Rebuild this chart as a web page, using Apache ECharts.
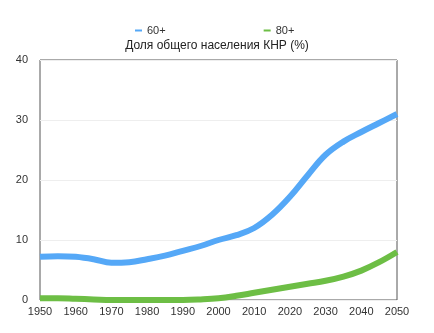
<!DOCTYPE html>
<html>
<head>
<meta charset="utf-8">
<script src="https://cdn.jsdelivr.net/npm/echarts@6/dist/echarts.min.js"></script>
<style>
  html, body { margin: 0; padding: 0; background: #fff; }
  #chart { width: 434px; height: 333px; }
</style>
</head>
<body>
<div id="chart"></div>
<script>
// годы
var years = [1950, 1955, 1960, 1965, 1970, 1975, 1980, 1985, 1990, 1995, 2000,
    2005, 2010, 2015, 2020, 2025, 2030, 2035, 2040, 2045, 2050];
// 60+
var age60 = [7.2, 7.3, 7.2, 6.8, 6.2, 6.3, 6.8, 7.4, 8.2, 9.0, 10.0,
    10.8, 12.0, 14.2, 17.2, 20.8, 24.2, 26.4, 28.0, 29.5, 31.0];
// 80+
var age80 = [0.3, 0.3, 0.2, 0.1, 0.0, 0.0, 0.0, 0.0, 0.0, 0.1, 0.3,
    0.7, 1.2, 1.7, 2.2, 2.7, 3.2, 3.9, 4.9, 6.3, 8.0];
var seriesNames = ['60+', '80+'];

function pairs(vals) {
    return years.map(function (y, i) { return [y, vals[i]]; });
}

var chart = echarts.init(document.getElementById('chart'));
var option = {
    animation: false,
    textStyle: { fontFamily: 'Liberation Sans, Arial, sans-serif' },
    title: {
        text: 'Доля общего населения КНР (%)',
        left: 'center',
        top: 35,
        textStyle: { fontSize: 12, fontWeight: 'normal', color: '#222' }
    },
    legend: {
        data: seriesNames,
        top: 20,
        left: 130,
        itemGap: 98,
        itemWidth: 7,
        itemHeight: 2,
        icon: 'rect',
        textStyle: { fontSize: 11, color: '#333' }
    },
    grid: {
        left: 40,
        right: 37,
        top: 60,
        bottom: 33,
        show: true,
        borderColor: '#555',
        borderWidth: 1
    },
    xAxis: {
        type: 'value',
        min: 1950,
        max: 2050,
        interval: 10,
        axisLine: { show: false },
        axisTick: { show: false },
        splitLine: { show: false },
        axisLabel: {
            fontSize: 11, color: '#333', margin: 6,
            formatter: function (v) { return String(v); }
        }
    },
    yAxis: {
        type: 'value',
        min: 0,
        max: 40,
        interval: 10,
        axisLine: { show: false },
        axisTick: { show: false },
        splitLine: { lineStyle: { color: '#eee' } },
        axisLabel: { fontSize: 11, color: '#333', margin: 12 }
    },
    series: [
        {
            name: seriesNames[0],
            type: 'line',
            smooth: 0.4,
            showSymbol: false,
            color: '#55a8f7',
            lineStyle: { width: 6 },
            data: pairs(age60)
        },
        {
            name: seriesNames[1],
            type: 'line',
            smooth: 0.4,
            showSymbol: false,
            color: '#6dbe45',
            lineStyle: { width: 6 },
            data: pairs(age80)
        }
    ]
};
chart.setOption(option);
</script>
</body>
</html>
